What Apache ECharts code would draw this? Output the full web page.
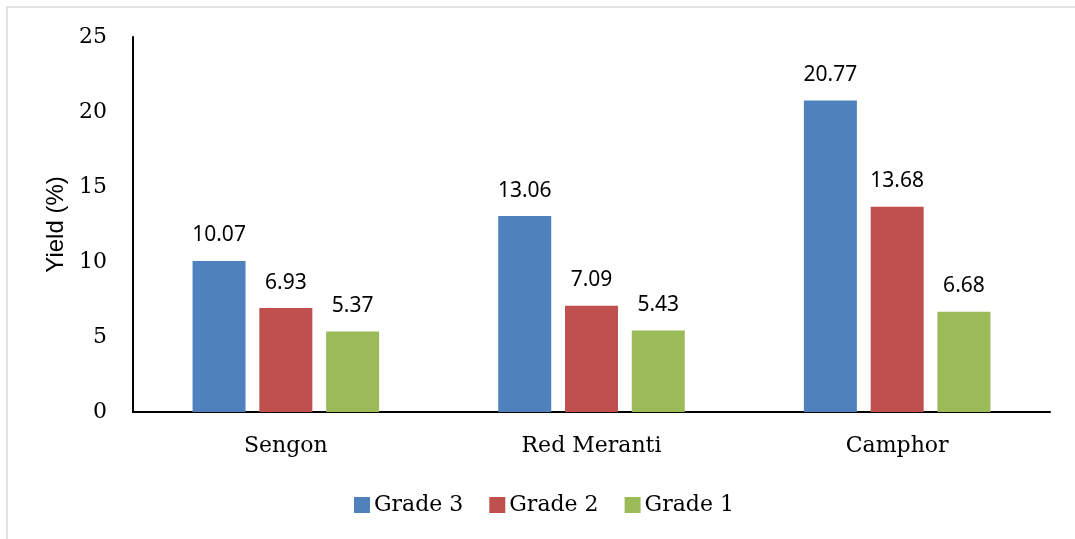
<!DOCTYPE html>
<html>
<head>
<meta charset="utf-8">
<script src="https://cdn.jsdelivr.net/npm/echarts@6/dist/echarts.min.js"></script>
<style>
  html, body { margin: 0; padding: 0; background: #fff; }
  #chart { width: 1075px; height: 539px; }
</style>
</head>
<body>
<div id="chart"></div>
<script>
// Wood species and yield per grade (%)
const categories = ['Sengon', 'Red Meranti', 'Camphor'];
const seriesNames = ['Grade 3', 'Grade 2', 'Grade 1'];
const grade3 = [10.07, 13.06, 20.77];
const grade2 = [6.93, 7.09, 13.68];
const grade1 = [5.37, 5.43, 6.68];
const yTicks = [0, 5, 10, 15, 20, 25];

const colors = ['#4F81BD', '#C0504D', '#9BBB59'];
const serif = 'DejaVu Serif';
const sans = 'Noto Sans';

const seriesData = [grade3, grade2, grade1];

const chart = echarts.init(document.getElementById('chart'), null, { renderer: 'canvas' });

chart.setOption({
  animation: false,
  backgroundColor: '#ffffff',
  color: colors,
  graphic: [
    {
      type: 'rect',
      shape: { x: 7, y: 7, width: 1090, height: 560 },
      style: { fill: 'none', stroke: '#d9d9d9', lineWidth: 1.5 },
      silent: true,
      z: -10
    }
  ],
  legend: {
    data: seriesNames,
    left: 349,
    top: 489,
    itemWidth: 16,
    itemHeight: 16,
    itemGap: 26,
    icon: 'rect',
    textStyle: { fontFamily: serif, fontSize: 22, color: '#000', padding: [0, 0, 0, -1] }
  },
  grid: { left: 133, right: 25, top: 37, bottom: 127, containLabel: false },
  xAxis: {
    type: 'category',
    data: categories,
    axisLine: { show: true, lineStyle: { color: '#000', width: 2 } },
    axisTick: { show: false },
    axisLabel: { fontFamily: serif, fontSize: 22, color: '#000', margin: 23 }
  },
  yAxis: {
    type: 'value',
    name: 'Yield (%)',
    nameLocation: 'middle',
    nameGap: 62,
    nameRotate: 90,
    nameTextStyle: {
      fontFamily: 'Liberation Sans',
      fontSize: 24,
      color: '#000'
    },
    min: yTicks[0],
    max: yTicks[yTicks.length - 1],
    interval: 5,
    splitLine: { show: false },
    axisLine: { show: true, lineStyle: { color: '#000', width: 2 } },
    axisTick: { show: false },
    axisLabel: { fontFamily: serif, fontSize: 22, color: '#000', margin: 26 }
  },
  series: seriesNames.map((name, i) => ({
    name,
    type: 'bar',
    data: seriesData[i],
    barWidth: 53,
    barGap: '26%',
    itemStyle: { color: colors[i] },
    label: {
      show: true,
      position: 'top',
      distance: 15,
      fontFamily: sans,
      fontSize: 21,
      color: '#000',
      formatter: p => p.value.toFixed(2)
    }
  }))
});
</script>
</body>
</html>
